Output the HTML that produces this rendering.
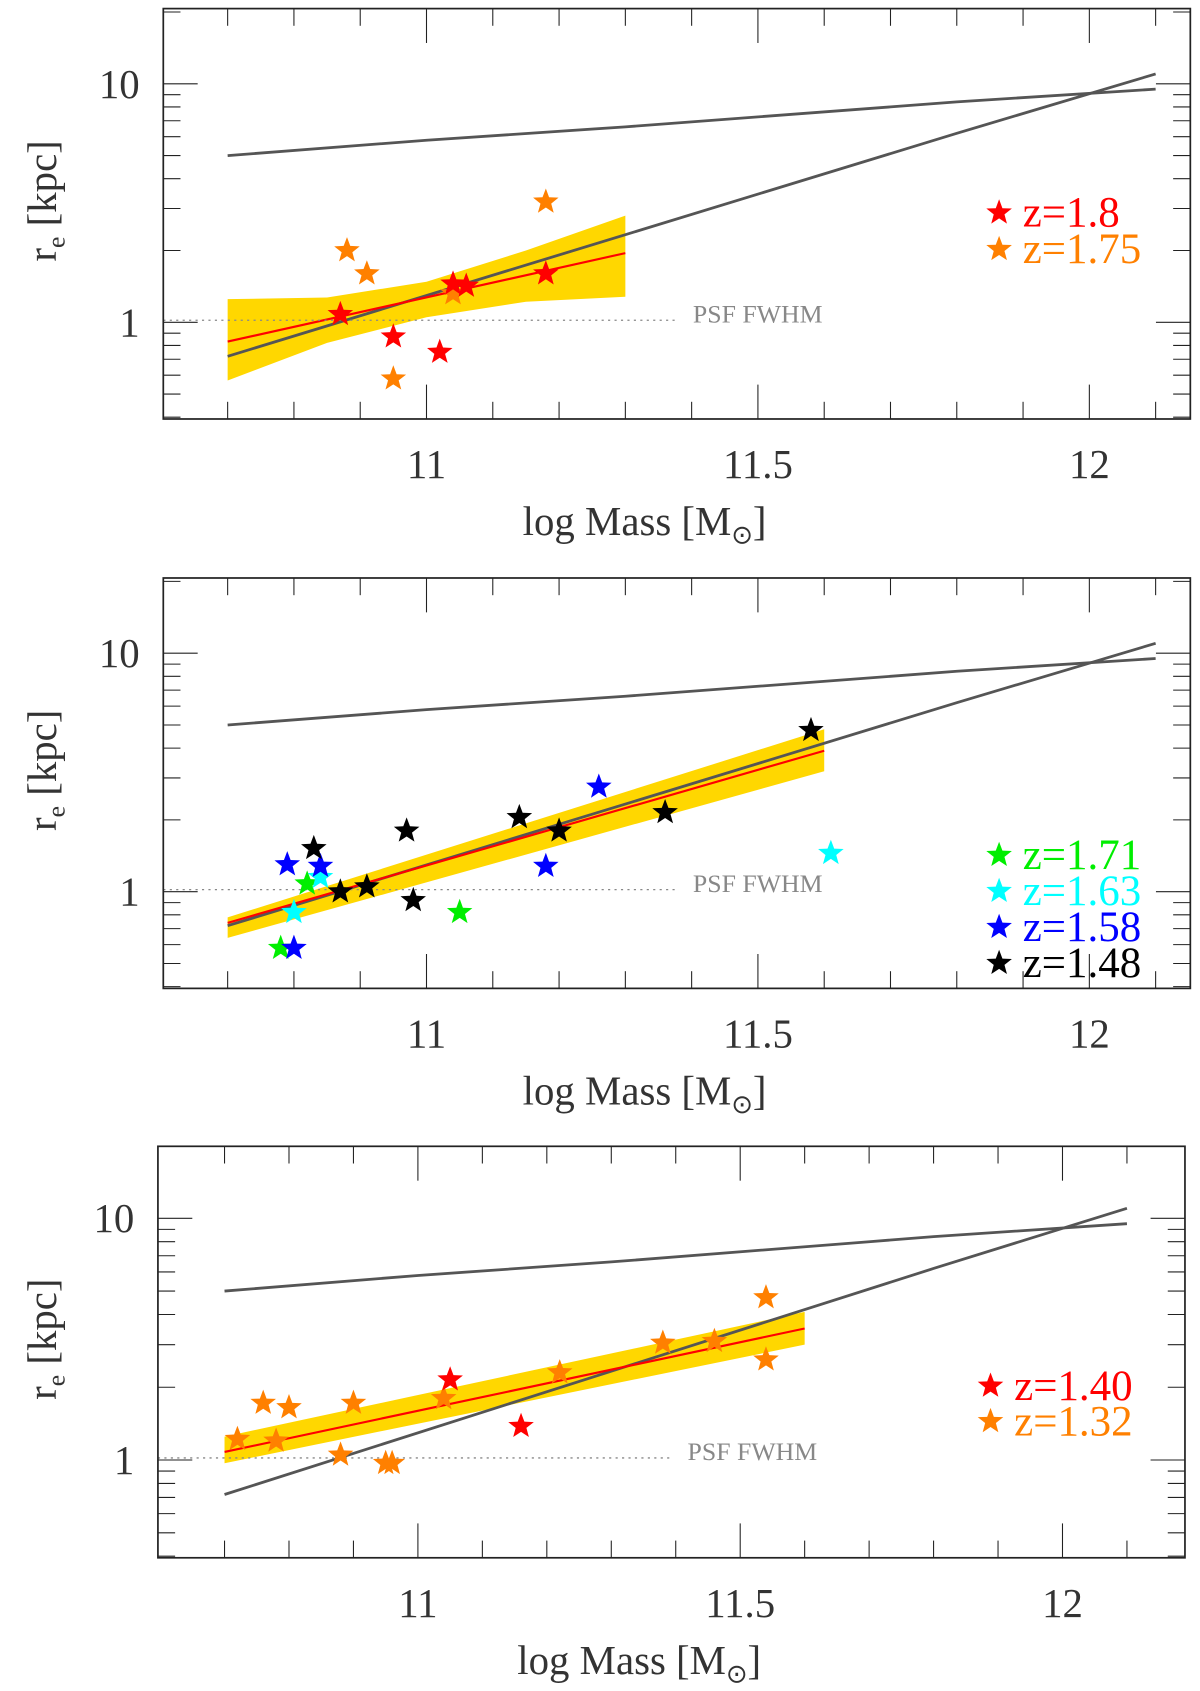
<!DOCTYPE html>
<html><head><meta charset="utf-8"><style>
html,body{margin:0;padding:0;background:#fff;}
svg{display:block;}
</style></head><body>
<svg id="fig" width="1200" height="1691" viewBox="0 0 1117 1574" preserveAspectRatio="none" xmlns="http://www.w3.org/2000/svg"></svg>
<script>
// ---- data ----
const xTicksMajor = [11, 11.5, 12];
const xTickLabels = ["11", "11.5", "12"];
const yTicksMajor = [1, 10];
const yTickLabels = ["1", "10"];
const upperLineX = [10.7, 11.0, 11.3, 11.7, 11.8, 12.1];
const upperLineY = [5.0, 5.8, 6.6, 8.0, 8.4, 9.5];
const diagLineX = [10.7, 11.8, 12.1];
const diagLineY = [0.72, 6.2, 11.0];
const psfY = 1.02;

// panel 1
const p1BandX = [10.7, 10.85, 11.0, 11.15, 11.3];
const p1BandTop = [1.25, 1.27, 1.48, 2.0, 2.8];
const p1BandBot = [0.57, 0.82, 1.05, 1.22, 1.28];
const p1FitX = [10.7, 11.3];
const p1FitY = [0.83, 1.95];
const p1RedX = [10.87, 10.95, 11.02, 11.04, 11.06, 11.18];
const p1RedY = [1.08, 0.87, 0.75, 1.45, 1.42, 1.6];
const p1OrangeX = [10.88, 10.91, 10.95, 11.04, 11.18];
const p1OrangeY = [2.0, 1.6, 0.58, 1.32, 3.2];

// panel 2
const p2BandX = [10.7, 11.6];
const p2BandTop = [0.78, 4.8];
const p2BandBot = [0.64, 3.2];
const p2FitX = [10.7, 11.6];
const p2FitY = [0.74, 3.9];
const p2GreenX = [10.78, 10.82, 11.05];
const p2GreenY = [0.58, 1.08, 0.82];
const p2CyanX = [10.80, 10.84, 11.61];
const p2CyanY = [0.82, 1.15, 1.45];
const p2BlueX = [10.79, 10.80, 10.84, 11.18, 11.26];
const p2BlueY = [1.3, 0.58, 1.28, 1.28, 2.75];
const p2BlackX = [10.83, 10.87, 10.91, 10.97, 10.98, 11.14, 11.20, 11.36, 11.58];
const p2BlackY = [1.52, 1.0, 1.05, 1.8, 0.92, 2.05, 1.8, 2.15, 4.75];

// panel 3
const p3BandX = [10.7, 11.6];
const p3BandTop = [1.25, 4.1];
const p3BandBot = [0.97, 3.0];
const p3FitX = [10.7, 11.6];
const p3FitY = [1.08, 3.5];
const p3OrangeX = [10.72, 10.76, 10.78, 10.80, 10.88, 10.90, 10.95, 10.96, 11.04, 11.22, 11.38, 11.46, 11.54, 11.54];
const p3OrangeY = [1.22, 1.72, 1.2, 1.65, 1.05, 1.72, 0.97, 0.97, 1.8, 2.3, 3.05, 3.1, 4.7, 2.6];
const p3RedX = [11.05, 11.16];
const p3RedY = [2.15, 1.38];

const NS = "http://www.w3.org/2000/svg";
const svg = document.getElementById('fig');
function el(tag, attrs, parent) {
  const e = document.createElementNS(NS, tag);
  for (const k in attrs) e.setAttribute(k, attrs[k]);
  (parent || svg).appendChild(e);
  return e;
}
const COL = {red:"#ff0000", orange:"#ff8000", green:"#00ee00", cyan:"#00ffff", blue:"#0000ff", black:"#000000"};
const SERIF = "'Liberation Serif', serif";

function starPts(cx, cy, R) {
  const r = R * 0.42; let p = [];
  for (let i = 0; i < 10; i++) {
    const a = -Math.PI / 2 + i * Math.PI / 5;
    const rr = i % 2 ? r : R;
    p.push((cx + rr * Math.cos(a)).toFixed(1) + "," + (cy + rr * Math.sin(a)).toFixed(1));
  }
  return p.join(" ");
}

function panel(cfg) {
  const g = el('g', {});
  
  
  const L = cfg.left, R = cfg.right, T = cfg.top, B = cfg.bottom;
  const sx = v => cfg.x11 + (v - 11) * cfg.xu;
  const sy = v => cfg.y1 - Math.log10(v) * cfg.yd;
  let d = "";
  cfg.bandX.forEach((x, i) => d += (i ? "L" : "M") + sx(x) + "," + sy(cfg.bandTop[i]));
  for (let i = cfg.bandX.length - 1; i >= 0; i--) d += "L" + sx(cfg.bandX[i]) + "," + sy(cfg.bandBot[i]);
  const band = el('path', {d: d + "Z", fill: "#ffd700"}, g);
  
  
  const mk = (xs, ys) => xs.map((x, i) => sx(x) + "," + sy(ys[i])).join(" ");
  const ul = el('polyline', {points: mk(upperLineX, upperLineY), fill: "none", stroke: "#555", "stroke-width": 2.6}, g);
  
  
  const dl = el('polyline', {points: mk(diagLineX, diagLineY), fill: "none", stroke: "#555", "stroke-width": 2.6}, g);
  
  
  const fl = el('polyline', {points: mk(cfg.fitX, cfg.fitY), fill: "none", stroke: "#ff0000", "stroke-width": 2}, g);
  
  
  const pl = el('line', {x1: L, x2: cfg.psfEnd, y1: sy(psfY), y2: sy(psfY), stroke: "#888", "stroke-width": 1.2, "stroke-dasharray": "2,4"}, g);
  
  
  const pt = el('text', {x: cfg.psfEnd + 15, y: sy(psfY) + 2, "font-size": 24, fill: "#888", "font-family": SERIF}, g);
  pt.textContent = "PSF FWHM";
  
  
  cfg.series.forEach(s => {
    s.xs.forEach((x, i) => {
      const st = el('polygon', {points: starPts(sx(x), sy(s.ys[i]), 12.5), fill: COL[s.col]}, g);
      
      
    });
  });
  const fr = el('rect', {x: L, y: T, width: R - L, height: B - T, fill: "none", stroke: "#222", "stroke-width": 1.6}, g);
  
  
  for (let k = 0; k <= 14; k++) {
    const v = 10.7 + k * 0.1, x = sx(v);
    const major = Math.abs(v * 2 - Math.round(v * 2)) < 1e-6;
    const len = major ? 32 : 16;
    el('line', {x1: x, x2: x, y1: B, y2: B - len, stroke: "#222", "stroke-width": 1}, g);
    el('line', {x1: x, x2: x, y1: T, y2: T + len, stroke: "#222", "stroke-width": 1}, g);
  }
  xTicksMajor.forEach((v, i) => {
    const t = el('text', {x: sx(v), y: B + 55, "font-size": 38, fill: "#333", "text-anchor": "middle", "font-family": SERIF}, g);
    t.textContent = xTickLabels[i];
    
    
  });
  const yv = [0.4,0.5,0.6,0.7,0.8,0.9,1,2,3,4,5,6,7,8,9,10,20];
  yv.forEach(v => {
    const y = sy(v); if (y < T || y > B) return;
    const major = (v === 1 || v === 10);
    const len = major ? 32 : 16;
    el('line', {x1: L, x2: L + len, y1: y, y2: y, stroke: "#222", "stroke-width": 1}, g);
    el('line', {x1: R, x2: R - len, y1: y, y2: y, stroke: "#222", "stroke-width": 1}, g);
  });
  yTicksMajor.forEach((v, i) => {
    const t = el('text', {x: L - 22, y: sy(v) + 13, "font-size": 38, fill: "#333", "text-anchor": "end", "font-family": SERIF}, g);
    t.textContent = yTickLabels[i];
    
    
  });
  const xt = el('text', {x: (L + R) / 2 - 30, y: B + 108, "font-size": 38, fill: "#333", "text-anchor": "middle", "font-family": SERIF}, g);
  xt.innerHTML = 'log Mass [M<tspan font-size="24" dy="8">⊙</tspan><tspan dy="-8">]</tspan>';
  
  
  const yc = (T + B) / 2 - 12;
  const yt = el('text', {x: 0, y: 0, "font-size": 38, fill: "#333", "text-anchor": "middle", transform: `translate(52,${yc}) rotate(-90)`, "font-family": SERIF}, g);
  yt.innerHTML = 'r<tspan font-size="24" dy="8">e</tspan><tspan dy="-8"> [kpc]</tspan>';
  
  
  cfg.legend.forEach((lg, i) => {
    const y = cfg.legY + i * cfg.legDy;
    const ls = el('polygon', {points: starPts(cfg.legX, y, 12.5), fill: COL[lg.col]}, g);
    
    
    const lt = el('text', {x: cfg.legX + 22, y: y + 13, "font-size": 40, fill: COL[lg.col], "font-family": SERIF}, g);
    lt.textContent = lg.label;
    
    
  });
}

panel({name: "panel-z18", left: 152, right: 1108, top: 8, bottom: 390, x11: 397, xu: 617, y1: 300, yd: 222, psfEnd: 630,
  bandX: p1BandX, bandTop: p1BandTop, bandBot: p1BandBot, fitX: p1FitX, fitY: p1FitY,
  series: [{xs: p1OrangeX, ys: p1OrangeY, col: "orange"}, {xs: p1RedX, ys: p1RedY, col: "red"}],
  legend: [{col: "red", label: "z=1.8"}, {col: "orange", label: "z=1.75"}], legX: 930, legY: 198, legDy: 34});
panel({name: "panel-z15-17", left: 152, right: 1108, top: 538, bottom: 920, x11: 397, xu: 617, y1: 830, yd: 222, psfEnd: 630,
  bandX: p2BandX, bandTop: p2BandTop, bandBot: p2BandBot, fitX: p2FitX, fitY: p2FitY,
  series: [{xs: p2GreenX, ys: p2GreenY, col: "green"}, {xs: p2CyanX, ys: p2CyanY, col: "cyan"}, {xs: p2BlueX, ys: p2BlueY, col: "blue"}, {xs: p2BlackX, ys: p2BlackY, col: "black"}],
  legend: [{col: "green", label: "z=1.71"}, {col: "cyan", label: "z=1.63"}, {col: "blue", label: "z=1.58"}, {col: "black", label: "z=1.48"}], legX: 930, legY: 796, legDy: 33.5});
panel({name: "panel-z13-14", left: 147, right: 1103, top: 1067, bottom: 1450, x11: 389, xu: 600, y1: 1359, yd: 225, psfEnd: 625,
  bandX: p3BandX, bandTop: p3BandTop, bandBot: p3BandBot, fitX: p3FitX, fitY: p3FitY,
  series: [{xs: p3OrangeX, ys: p3OrangeY, col: "orange"}, {xs: p3RedX, ys: p3RedY, col: "red"}],
  legend: [{col: "red", label: "z=1.40"}, {col: "orange", label: "z=1.32"}], legX: 922, legY: 1290, legDy: 33});
</script>
</body></html>
